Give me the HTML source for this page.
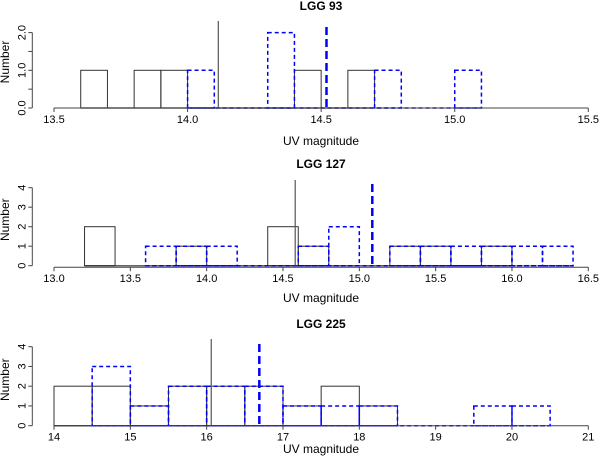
<!DOCTYPE html>
<html><head><meta charset="utf-8">
<style>
html,body{margin:0;padding:0;background:#fff;}
svg{display:block;font-family:"Liberation Sans",sans-serif;}
</style></head>
<body>
<svg id="chart" width="600" height="459" viewBox="0 0 600 459"></svg>
<script>
// Panel 1: LGG 93
const p1Title = "LGG 93";
const p1Edges = [13.6,13.7,13.8,13.9,14.0,14.1,14.2,14.3,14.4,14.5,14.6,14.7];
const p1Black = [1,0,1,1,0,0,0,0,1,0,1];
const p1BlueEdges = [14.0,14.1,14.2,14.3,14.4,14.5,14.6,14.7,14.8,14.9,15.0,15.1];
const p1Blue = [1,0,0,2,0,0,0,1,0,0,1];
const p1XTicks = [13.5,14.0,14.5,15.0,15.5];
const p1XLabels = ["13.5","14.0","14.5","15.0","15.5"];
const p1YTicks = [0,0.5,1,1.5,2];
const p1YLabels = ["0.0","","1.0","","2.0"];
const p1BlackLine = 14.115;
const p1BlueLine = 14.52;

// Panel 2: LGG 127
const p2Title = "LGG 127";
const p2Edges = [13.2,13.4,13.6,13.8,14.0,14.2,14.4,14.6,14.8,15.0,15.2,15.4,15.6,15.8,16.0];
const p2Black = [2,0,0,1,0,0,2,1,0,0,1,1,0,1];
const p2BlueEdges = [13.6,13.8,14.0,14.2,14.4,14.6,14.8,15.0,15.2,15.4,15.6,15.8,16.0,16.2,16.4];
const p2Blue = [1,1,1,0,0,1,2,0,1,1,1,1,1,1];
const p2XTicks = [13.0,13.5,14.0,14.5,15.0,15.5,16.0,16.5];
const p2XLabels = ["13.0","13.5","14.0","14.5","15.0","15.5","16.0","16.5"];
const p2YTicks = [0,1,2,3,4];
const p2YLabels = ["0","1","2","3","4"];
const p2BlackLine = 14.58;
const p2BlueLine = 15.085;

// Panel 3: LGG 225
const p3Title = "LGG 225";
const p3Edges = [14,14.5,15,15.5,16,16.5,17,17.5,18,18.5];
const p3Black = [2,2,1,2,2,2,1,2,1];
const p3BlueEdges = [14.5,15,15.5,16,16.5,17,17.5,18,18.5,19,19.5,20,20.5];
const p3Blue = [3,1,2,2,2,1,1,1,0,0,1,1];
const p3XTicks = [14,15,16,17,18,19,20,21];
const p3XLabels = ["14","15","16","17","18","19","20","21"];
const p3YTicks = [0,1,2,3,4];
const p3YLabels = ["0","1","2","3","4"];
const p3BlackLine = 16.06;
const p3BlueLine = 16.69;

const NS = "http://www.w3.org/2000/svg";
const svg = document.getElementById("chart");
function mk(tag, attrs, parent){
  const e = document.createElementNS(NS, tag);
  for (const k in attrs) e.setAttribute(k, attrs[k]);
  (parent||svg).appendChild(e);
  return e;
}

function panel(cfg){
  const g = mk("g", {});
  
  
  const L = 54, R = 588.3;
  const sx = v => L + (v - cfg.xmin) / (cfg.xmax - cfg.xmin) * (R - L);
  const sy = v => cfg.base - v * cfg.ppu;

  const t = mk("text", {x: 321, y: cfg.titleY, "text-anchor": "middle", "font-size": 12, "font-weight": "bold", fill: "#000"}, g);
  t.textContent = cfg.title;
  
  

  const bb = mk("line", {x1: sx(cfg.edges[0]), x2: sx(cfg.edges[cfg.edges.length-1]), y1: cfg.base, y2: cfg.base, stroke: "#666", "stroke-width": 1.5}, g);
  
  
  for (let i = 0; i < cfg.black.length; i++) {
    const r = mk("rect", {x: sx(cfg.edges[i]), y: sy(cfg.black[i]), width: sx(cfg.edges[i+1]) - sx(cfg.edges[i]), height: cfg.black[i]*cfg.ppu, fill: "none", stroke: "#333", "stroke-width": 1}, g);
    
    
  }
  const ub = mk("line", {x1: sx(cfg.bedges[0]), x2: sx(cfg.bedges[cfg.bedges.length-1]), y1: cfg.base, y2: cfg.base, stroke: "#0000ff", "stroke-width": 1.5, "stroke-dasharray": "4,3"}, g);
  
  
  for (let i = 0; i < cfg.blue.length; i++) {
    const r = mk("rect", {x: sx(cfg.bedges[i]), y: sy(cfg.blue[i]), width: sx(cfg.bedges[i+1]) - sx(cfg.bedges[i]), height: cfg.blue[i]*cfg.ppu, fill: "none", stroke: "#0000ff", "stroke-width": 1.5, "stroke-dasharray": "4,3"}, g);
    
    
  }
  const bl = mk("line", {x1: sx(cfg.bline), x2: sx(cfg.bline), y1: cfg.blTop, y2: cfg.base, stroke: "#555", "stroke-width": 1.2}, g);
  
  
  const ul = mk("line", {x1: sx(cfg.uline), x2: sx(cfg.uline), y1: cfg.ulTop, y2: cfg.base, stroke: "#0000ff", "stroke-width": 2.5, "stroke-dasharray": "8,4"}, g);
  
  

  const xa = mk("g", {}, g);
  
  
  const ay = cfg.base + cfg.axOff;
  mk("line", {x1: sx(cfg.xt[0]), x2: sx(cfg.xt[cfg.xt.length-1]), y1: ay, y2: ay, stroke: "#444", "stroke-width": 1}, xa);
  cfg.xt.forEach((v, i) => {
    mk("line", {x1: sx(v), x2: sx(v), y1: ay, y2: ay + 4, stroke: "#444"}, xa);
    const tl = mk("text", {x: sx(v), y: ay + 15, "text-anchor": "middle", "font-size": 11, fill: "#000"}, xa);
    tl.textContent = cfg.xl[i];
    
    
  });
  const xt = mk("text", {x: 321, y: cfg.xtitleY, "text-anchor": "middle", "font-size": 12, fill: "#000"}, g);
  xt.textContent = "UV magnitude";
  
  

  const ya = mk("g", {}, g);
  
  
  const axx = 32.3;
  mk("line", {x1: axx, x2: axx, y1: sy(cfg.yt[0]), y2: sy(cfg.yt[cfg.yt.length-1]), stroke: "#444"}, ya);
  cfg.yt.forEach((v, i) => {
    mk("line", {x1: axx - 4, x2: axx, y1: sy(v), y2: sy(v), stroke: "#444"}, ya);
    if (cfg.yl[i]) {
      const tl = mk("text", {x: 0, y: 0, "text-anchor": "middle", "font-size": 11, fill: "#000", transform: `translate(${axx-7},${sy(v)}) rotate(-90)`}, ya);
      tl.textContent = cfg.yl[i];
      
      
    }
  });
  const yt = mk("text", {x: 0, y: 0, "text-anchor": "middle", "font-size": 12, fill: "#000", transform: `translate(9,${cfg.base - 46}) rotate(-90)`}, g);
  yt.textContent = "Number";
  
  
}

panel({slug: "lgg-93", title: p1Title, titleY: 10, xtitleY: 145, xmin: 13.5, xmax: 15.5, base: 108, ppu: 37.7, axOff: 0,
  edges: p1Edges, black: p1Black, bedges: p1BlueEdges, blue: p1Blue, xt: p1XTicks, xl: p1XLabels, yt: p1YTicks, yl: p1YLabels,
  bline: p1BlackLine, uline: p1BlueLine, blTop: 21, ulTop: 27});
panel({slug: "lgg-127", title: p2Title, titleY: 168, xtitleY: 302, xmin: 13.0, xmax: 16.5, base: 265.7, ppu: 19.5, axOff: 1.5,
  edges: p2Edges, black: p2Black, bedges: p2BlueEdges, blue: p2Blue, xt: p2XTicks, xl: p2XLabels, yt: p2YTicks, yl: p2YLabels,
  bline: p2BlackLine, uline: p2BlueLine, blTop: 180, ulTop: 184});
panel({slug: "lgg-225", title: p3Title, titleY: 328, xtitleY: 453, xmin: 14, xmax: 21, base: 425.7, ppu: 19.75, axOff: 0,
  edges: p3Edges, black: p3Black, bedges: p3BlueEdges, blue: p3Blue, xt: p3XTicks, xl: p3XLabels, yt: p3YTicks, yl: p3YLabels,
  bline: p3BlackLine, uline: p3BlueLine, blTop: 339, ulTop: 344});
</script>
</body></html>
